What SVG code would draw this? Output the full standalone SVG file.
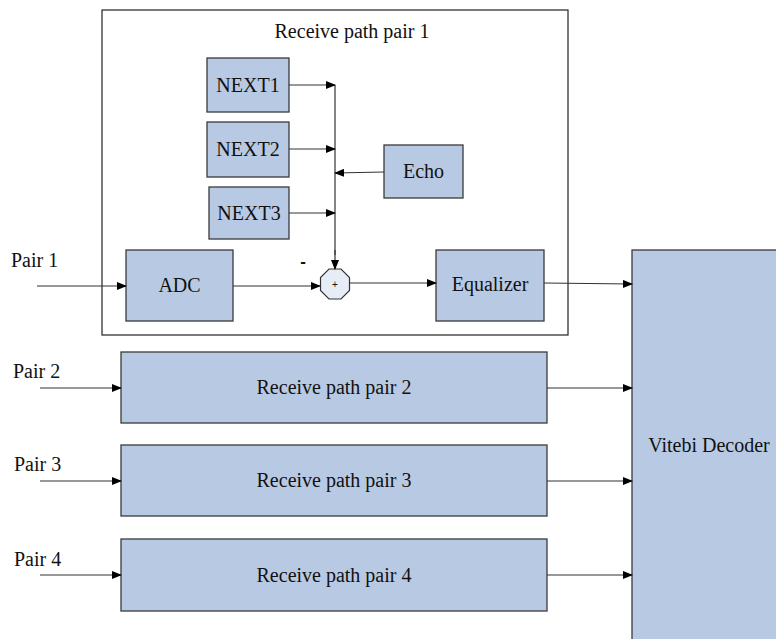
<svg xmlns="http://www.w3.org/2000/svg" width="776" height="639" viewBox="0 0 776 639">
<defs>
<marker id="ah" markerWidth="10" markerHeight="8" refX="9" refY="4" orient="auto" markerUnits="userSpaceOnUse">
<path d="M0,0 L10,4 L0,8 Z" fill="#000"/>
</marker>
</defs>
<style>
.box{fill:#b8cae3;stroke:#3a3a3a;stroke-width:1.3}
.frame{fill:#fff;stroke:#222;stroke-width:1.2}
.t{font-size:20px;fill:#111;text-anchor:middle}
.tl{font-size:20px;fill:#111}
.c{stroke:#333;stroke-width:1.2;fill:none}
.ca{stroke:#333;stroke-width:1.2;fill:none;marker-end:url(#ah)}
</style>
<rect width="776" height="639" fill="#fff"/>
<g font-family="Liberation Serif, serif">
<g id="pair1-frame">
<rect class="frame" x="102" y="10" width="466" height="325"/>
<text class="t" x="352" y="38">Receive path pair 1</text>
</g>
<g id="next1"><rect class="box" x="207" y="58" width="82" height="54"/><text class="t" x="248" y="92">NEXT1</text></g>
<g id="next2"><rect class="box" x="207" y="122" width="82" height="55"/><text class="t" x="248" y="156">NEXT2</text></g>
<g id="next3"><rect class="box" x="209" y="187" width="80" height="52"/><text class="t" x="249" y="220">NEXT3</text></g>
<g id="echo"><rect class="box" x="384" y="145" width="79" height="53"/><text class="t" x="423.5" y="178">Echo</text></g>
<g id="adc"><rect class="box" x="126" y="250" width="107" height="71"/><text class="t" x="179.5" y="292">ADC</text></g>
<g id="sum"><polygon points="329,269 341,269 349.5,277.5 349.5,290.5 341,299 329,299 320.5,290.5 320.5,277.5" fill="#e6edf7" stroke="#333" stroke-width="1.2"/><text x="335" y="288" font-family="Liberation Sans, sans-serif" font-size="10" text-anchor="middle" fill="#111">+</text></g>
<g id="equalizer"><rect class="box" x="436" y="250" width="108" height="71"/><text class="t" x="490" y="291">Equalizer</text></g>
<g id="rp2"><rect class="box" x="121" y="352" width="426" height="71"/><text class="t" x="334" y="394">Receive path pair 2</text></g>
<g id="rp3"><rect class="box" x="121" y="445" width="426" height="71"/><text class="t" x="334" y="487">Receive path pair 3</text></g>
<g id="rp4"><rect class="box" x="121" y="539" width="426" height="72"/><text class="t" x="334" y="582">Receive path pair 4</text></g>
<g id="viterbi"><rect class="box" x="632" y="250" width="150" height="395"/><text class="t" x="709" y="452">Vitebi Decoder</text></g>
<g id="labels">
<text class="tl" x="11" y="267">Pair 1</text>
<text class="tl" x="13" y="378">Pair 2</text>
<text class="tl" x="14" y="471">Pair 3</text>
<text class="tl" x="14" y="566">Pair 4</text>
<text x="303" y="267" font-family="Liberation Sans, sans-serif" font-size="17" font-weight="bold" text-anchor="middle" fill="#111">-</text>
</g>
</g>
<g id="connectors">
<line class="c" x1="335" y1="85" x2="335" y2="255"/>
<line class="ca" x1="335" y1="250" x2="335" y2="269"/>
<line class="ca" x1="289" y1="85" x2="335" y2="85"/>
<line class="ca" x1="289" y1="149" x2="335" y2="149"/>
<line class="ca" x1="289" y1="213" x2="335" y2="213"/>
<line class="ca" x1="384" y1="172" x2="335" y2="173"/>
<line class="ca" x1="37" y1="286" x2="126" y2="286"/>
<line class="ca" x1="233" y1="286" x2="320" y2="286"/>
<line class="ca" x1="350" y1="283" x2="436" y2="283"/>
<line class="ca" x1="544" y1="283" x2="632" y2="284"/>
<line class="ca" x1="40" y1="388" x2="121" y2="388"/>
<line class="ca" x1="40" y1="481" x2="121" y2="481"/>
<line class="ca" x1="40" y1="575" x2="121" y2="575"/>
<line class="ca" x1="547" y1="388" x2="632" y2="388"/>
<line class="ca" x1="547" y1="481" x2="632" y2="481"/>
<line class="ca" x1="547" y1="575" x2="632" y2="575"/>
</g>
</svg>
